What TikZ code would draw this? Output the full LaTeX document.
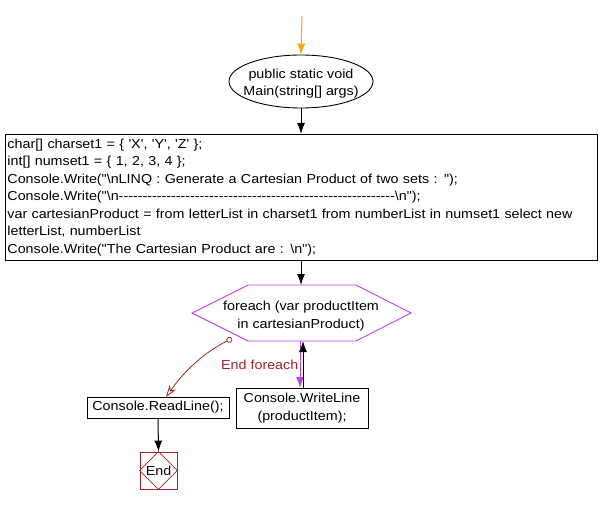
\documentclass[tikz,border=0pt]{standalone}
\usepackage{fontspec}
\setmainfont{Liberation Sans}[Ligatures=TeXOff, FakeStretch=1.1]
\usetikzlibrary{arrows.meta,shapes.geometric}
\definecolor{flowviolet}{RGB}{190,64,240}
\definecolor{flowred}{RGB}{160,36,36}
\definecolor{flowora}{RGB}{255,166,0}
\tikzset{
  every node/.style={font=\fontsize{13bp}{17.5bp}\selectfont, inner sep=2bp},
  box/.style={draw, rectangle, line width=0.9bp},
  arr/.style={-{Latex[length=11bp,width=8bp]}, line width=1bp},
}
\begin{document}
\begin{tikzpicture}[x=1bp,y=-1bp]
\useasboundingbox (0,0) rectangle (601,505);
\coordinate (s) at (302,16);
\node[draw, ellipse, line width=0.9bp, minimum width=144bp, minimum height=53bp, inner sep=0pt] (main) at (301,81.5) {};
\node[align=center, inner sep=0pt] (maintext) at (301,83.5) {public static void\\Main(string[] args)};
\node[box, minimum width=592bp, minimum height=126bp, text width=588bp, align=left, anchor=north west, inner sep=2bp] (code) at (5,134) {char[] charset1 = \{ 'X', 'Y', 'Z' \};\\
int[] numset1 = \{ 1, 2, 3, 4 \};\\
Console.Write("\textbackslash nLINQ : Generate a Cartesian Product of two sets : ");\\
Console.Write("\textbackslash n----------------------------------------------------------\textbackslash n");\\
var cartesianProduct = from letterList in charset1 from numberList in numset1 select new\\
letterList, numberList\\
Console.Write("The Cartesian Product are : \textbackslash n");};
\coordinate (hl) at (192,313);
\coordinate (htl) at (248,285);
\coordinate (htr) at (356,285);
\coordinate (hr) at (411,313);
\coordinate (hbr) at (356,341);
\coordinate (hbl) at (248,341);
\draw[flowviolet, line width=0.9bp] (hl) -- (htl) -- (htr) -- (hr) -- (hbr) -- (hbl) -- cycle;
\node[align=center] (fe) at (301,316) {foreach (var productItem\\in cartesianProduct)};
\coordinate (fetop) at (301,285);
\node[box, minimum width=132bp, minimum height=40bp, align=center, inner sep=1bp] (wl) at (302,408) {Console.WriteLine\\(productItem);};
\node[box, minimum width=142bp, minimum height=21bp, inner sep=1bp] (rl) at (158,407.5) {Console.ReadLine();};
\node[draw=flowred, rectangle, line width=0.9bp, minimum width=37bp, minimum height=37bp, inner sep=0pt] (end) at (158.5,470.5) {End};
\draw[flowred, line width=0.7bp] (end.north) -- (end.east) -- (end.south) -- (end.west) -- cycle;
\coordinate (loopout) at (300,341);
\coordinate (loopin) at (303,341);
\coordinate (wlin) at (300,388);
\coordinate (wlout) at (303,388);
\coordinate (exitpt) at (232,338.5);
\coordinate (rlin) at (166,397);
\draw[flowora, -{Latex[length=11bp,width=8bp]}, line width=1bp] (s) -- (main.north);
\draw[arr] (main.south) -- (main.south |- code.north);
\draw[arr] (301,260) -- (fetop);
\draw[flowviolet, -{Latex[length=11bp,width=8bp]}, line width=1bp] (loopout) -- (wlin);
\draw[arr] (wlout) -- (loopin);
\draw[flowred, line width=0.8bp, {Circle[open,length=6bp]}-{Stealth[open,length=12bp,width=8bp]}] (exitpt) .. controls (205,352) and (185,370) .. (rlin);
\node[text=flowred, anchor=west, inner sep=0pt] (endlabel) at (221,365) {End foreach};
\draw[arr] (rl.south) -- (end.north);
\end{tikzpicture}
\end{document}
